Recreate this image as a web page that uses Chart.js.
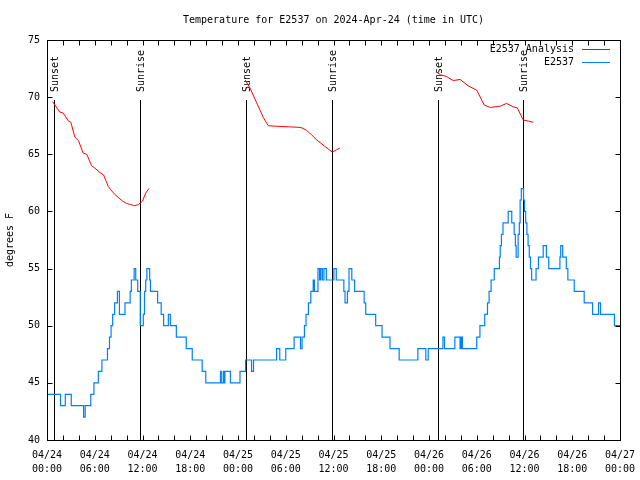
<!DOCTYPE html>
<html><head><meta charset="utf-8">
<script src="https://cdn.jsdelivr.net/npm/chart.js@4.4.1/dist/chart.umd.min.js"></script>
<style>html,body{margin:0;padding:0;background:#fff}</style>
</head><body>
<canvas id="c" width="640" height="480"></canvas>
<script>
// ---- data (x in hours since 2024-04-24 00:00 UTC) ----
const titleText = 'Temperature for E2537 on 2024-Apr-24 (time in UTC)';
const yAxisTitle = 'degrees F';
const dateLabels = ['04/24','04/24','04/24','04/24','04/25','04/25','04/25','04/25','04/26','04/26','04/26','04/26','04/27'];
const timeLabels = ['00:00','06:00','12:00','18:00','00:00','06:00','12:00','18:00','00:00','06:00','12:00','18:00','00:00'];
const seriesNames = ['E2537 Analysis','E2537'];

const obsHours = [0,1.7,2.3,3.05,4.6,4.8,5.5,5.9,6.45,6.9,7.6,7.85,8.05,8.25,8.5,8.85,9.1,9.8,10.45,10.6,10.95,11.15,11.4,11.72,12.1,12.25,12.4,12.55,12.9,13.0,13.9,14.35,14.65,15.25,15.5,16.25,17.5,18.25,19.5,19.95,21.8,21.9,22.15,22.22,22.35,23.05,24.25,24.95,25.7,25.95,28.85,29.25,30.0,31.05,31.85,32.05,32.35,32.55,32.85,33.15,33.45,33.6,34.05,34.25,34.4,34.6,34.8,35.1,36.05,36.35,37.3,37.45,37.75,37.95,38.3,38.65,39.85,40.05,41.3,42.1,43.1,44.25,46.6,47.6,47.9,49.75,49.95,51.25,51.9,52.05,52.2,54.0,54.4,55.0,55.35,55.55,55.8,56.2,56.85,56.95,57.1,57.3,57.95,58.4,58.7,58.85,58.95,59.2,59.35,59.45,59.6,59.88,60.0,60.15,60.3,60.45,60.6,60.75,60.9,61.45,61.75,62.35,62.75,63.05,64.45,64.55,64.8,65.25,65.45,66.25,67.5,68.55,69.3,69.55,71.3,72];
const obsTemps = [44,43,44,43,42,43,44,45,46,47,48,49,50,51,52,53,51,52,53,54,55,54,53,50,51,53,54,55,54,53,52,51,50,51,50,49,48,47,46,45,46,45,46,45,46,45,46,47,46,47,48,47,48,49,48,49,50,51,52,53,54,53,55,54,55,54,55,54,55,54,53,52,53,55,54,53,52,51,50,49,48,47,48,47,48,49,48,49,48,49,48,49,50,51,52,53,54,55,56,57,58,59,60,59,58,57,56,58,59,61,62,61,60,59,58,57,56,55,54,55,56,57,56,55,56,57,56,55,54,53,52,51,52,51,50,50];

const anaHours = [0.7,1.0,1.6,2.05,2.7,3.0,3.5,3.95,4.55,5.0,5.6,6.0,6.65,7.1,7.7,8.0,8.5,9.0,9.5,10.0,10.5,11.0,11.5,12.0,12.4,12.8,
  18,
  24.9,25.5,26.35,27.2,27.8,28.85,30.45,31.9,32.6,33.25,33.9,34.9,35.85,36.4,36.8,
  43,
  48.95,49.45,50.2,51.05,51.9,52.9,54.0,54.95,55.7,56.9,57.75,58.6,59.1,59.85,60.5,61.1];
const anaTemps = [69.6,69.3,68.7,68.6,67.9,67.8,66.5,66.2,65.1,65.0,64.0,63.8,63.4,63.2,62.2,61.9,61.5,61.2,60.9,60.7,60.6,60.5,60.6,60.9,61.6,62.0,
  null,
  71.5,70.8,69.5,68.2,67.5,67.45,67.4,67.35,67.1,66.7,66.25,65.7,65.2,65.4,65.55,
  null,
  72.2,71.95,71.8,71.45,71.55,71.0,70.6,69.3,69.1,69.2,69.45,69.15,69.05,68.0,67.9,67.8];

const sunsetHours = [0.88, 25.0, 49.17];
const sunriseHours = [11.72, 35.85, 59.86];
const sunLineTop = 69.75; // degrees F where the sun marker lines begin

// ---- rendering ----
const FONT = "'DejaVu Sans Mono', 'Liberation Mono', monospace";
const RED = '#ff0000', BLUE = '#0080ff';

const framePlugin = {
  id: 'frame',
  beforeDatasetsDraw(chart) {
    const {ctx, chartArea: a, scales: {x, y}} = chart;
    ctx.save();
    ctx.strokeStyle = '#000';
    ctx.lineWidth = 1;
    ctx.fillStyle = '#000';
    ctx.font = '10px ' + FONT;
    const top = y.getPixelForValue(sunLineTop);
    const events = sunsetHours.map(h => [h, 'Sunset']).concat(sunriseHours.map(h => [h, 'Sunrise']));
    events.forEach(([h, lbl]) => {
      const px = Math.round(x.getPixelForValue(h)) + 0.5;
      ctx.beginPath(); ctx.moveTo(px, top); ctx.lineTo(px, a.bottom); ctx.stroke();
      ctx.save();
      ctx.translate(px + 1, top - 8);
      ctx.rotate(-Math.PI / 2);
      ctx.textAlign = 'left'; ctx.textBaseline = 'middle';
      ctx.fillText(lbl, 0, 0);
      ctx.restore();
    });
    ctx.restore();
  },
  afterDraw(chart) {
    const {ctx, chartArea: a, scales: {x, y}} = chart;
    ctx.save();
    // title centred over the plot area
    ctx.font = '10px ' + FONT;
    ctx.fillStyle = '#000';
    ctx.textAlign = 'center'; ctx.textBaseline = 'middle';
    ctx.fillText(titleText, (a.left + a.right) / 2, 20);

    ctx.strokeStyle = '#000';
    ctx.lineWidth = 1;
    const L = Math.round(a.left) + 0.5, R = Math.round(a.right) + 0.5, T = Math.round(a.top) + 0.5, B = Math.round(a.bottom) + 0.5;
    ctx.strokeRect(L, T, R - L, B - T);
    const tl = 5;
    ctx.beginPath();
    x.ticks.forEach(t => {
      const px = Math.round(x.getPixelForValue(t.value)) + 0.5;
      ctx.moveTo(px, B); ctx.lineTo(px, B - tl);
      ctx.moveTo(px, T); ctx.lineTo(px, T + tl);
    });
    y.ticks.forEach(t => {
      const py = Math.round(y.getPixelForValue(t.value)) + 0.5;
      ctx.moveTo(L, py); ctx.lineTo(L + tl, py);
      ctx.moveTo(R, py); ctx.lineTo(R - tl, py);
    });
    ctx.stroke();
    // legend
    ctx.textAlign = 'right'; ctx.textBaseline = 'middle';
    const cols = [RED, BLUE];
    seriesNames.forEach((n, i) => {
      const ly = 49 + i * 13;
      ctx.fillText(n, 574, ly);
      ctx.strokeStyle = cols[i];
      ctx.beginPath(); ctx.moveTo(582, ly + 0.5); ctx.lineTo(610, ly + 0.5); ctx.stroke();
    });
    ctx.restore();
  }
};

new Chart(document.getElementById('c'), {
  type: 'line',
  data: {
    datasets: [
      {
        label: seriesNames[0],
        data: anaHours.map((h, i) => ({x: h, y: anaTemps[i]})),
        borderColor: RED, borderWidth: 1, pointRadius: 0, tension: 0, spanGaps: false, fill: false
      },
      {
        label: seriesNames[1],
        data: obsHours.map((h, i) => ({x: h, y: obsTemps[i]})),
        borderColor: BLUE, borderWidth: 1.2, pointRadius: 0, stepped: true, fill: false
      }
    ]
  },
  options: {
    responsive: false,
    animation: false,
    devicePixelRatio: 1,
    layout: {padding: {left: 0, right: 20, top: 40, bottom: 0}},
    plugins: {
      legend: {display: false},
      tooltip: {enabled: false},
      title: {display: false}
    },
    scales: {
      x: {
        type: 'linear', min: 0, max: 72,
        grid: {display: false, drawTicks: false},
        border: {display: false},
        afterFit: s => { s.height = 40; s.paddingLeft = 0; s.paddingRight = 0; },
        ticks: {
          stepSize: 2, autoSkip: false, maxRotation: 0, padding: 8, color: '#000',
          font: {family: FONT, size: 10, lineHeight: 1.4},
          callback: v => (v % 6 === 0 ? [dateLabels[v / 6], timeLabels[v / 6]] : '')
        }
      },
      y: {
        min: 40, max: 75,
        grid: {display: false, drawTicks: false},
        border: {display: false},
        afterFit: s => { s.width = 47; s.paddingTop = 0; s.paddingBottom = 0; },
        title: {display: true, text: yAxisTitle, color: '#000', font: {family: FONT, size: 10}, padding: {top: 4, bottom: 0}},
        ticks: {stepSize: 5, padding: 7, color: '#000', font: {family: FONT, size: 10}}
      }
    }
  },
  plugins: [framePlugin]
});
</script>
</body></html>
